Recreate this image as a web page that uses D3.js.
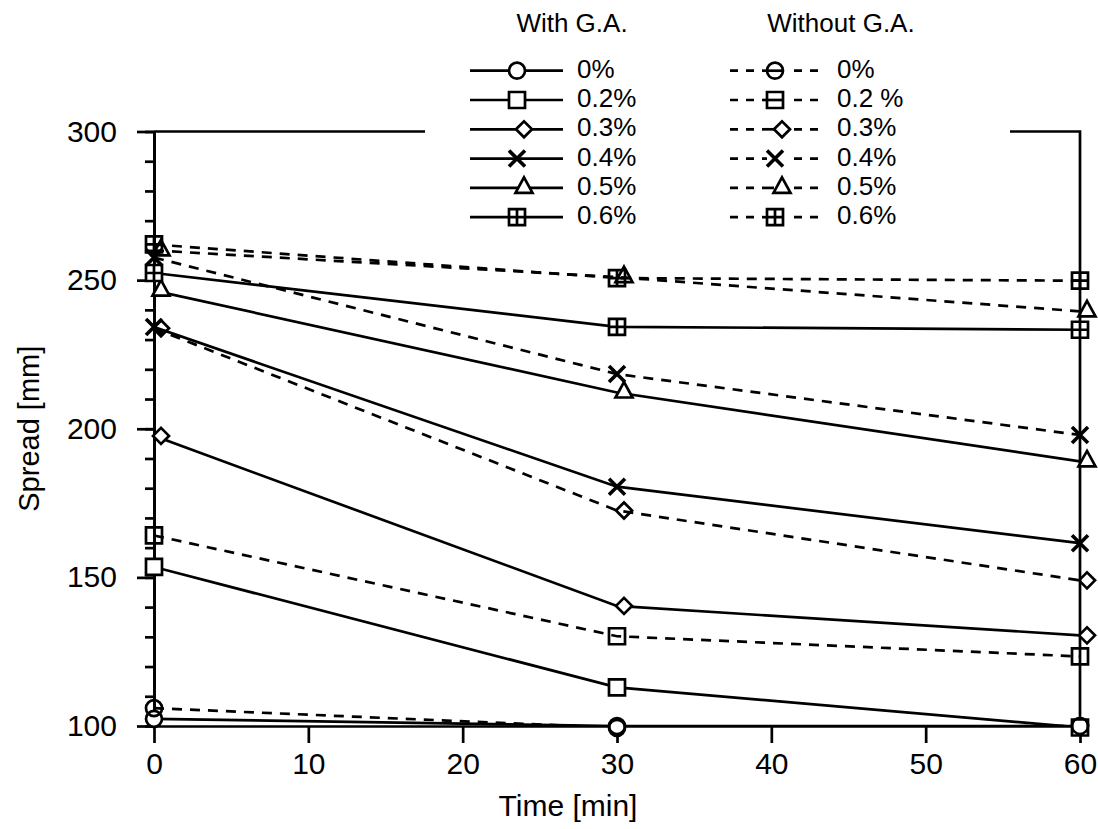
<!DOCTYPE html>
<html>
<head>
<meta charset="utf-8">
<script src="https://cdn.jsdelivr.net/npm/d3@7"></script>
<style>
  body { margin: 0; background: #fff; }
  svg { display: block; font-family: 'Liberation Sans', Arial, Helvetica, sans-serif; }
</style>
</head>
<body>
<svg id="chart" width="1098" height="829"></svg>
<script>
'use strict';

// data
const times = [0, 30, 60];
const xTicks = [0, 10, 20, 30, 40, 50, 60];
const yMajorTicks = [100, 150, 200, 250, 300];
const yMinorTicks = d3.range(100, 301, 10);
const concentrations = ['0%', '0.2%', '0.3%', '0.4%', '0.5%', '0.6%'];
const withoutLabels = ['0%', '0.2 %', '0.3%', '0.4%', '0.5%', '0.6%'];
const symbols = ['circle', 'square', 'diamond', 'cross', 'triangle', 'squarePlus'];

const withGA0 = [102.4, 100, 100];
const withGA2 = [153.5, 113, 99.5];
const withGA3 = [197.6, 140.4, 130.5];
const withGA4 = [234.2, 180.5, 161.5];
const withGA5 = [246.5, 212.2, 189];
const withGA6 = [252.4, 234.3, 233.3];

const withoutGA0 = [106, 99.4, 100];
const withoutGA2 = [164.1, 130.2, 123.4];
const withoutGA3 = [233.8, 172.5, 149];
const withoutGA4 = [257.6, 218.4, 197.9];
const withoutGA5 = [260, 251, 239.5];
const withoutGA6 = [262, 250.7, 249.8];

const withGA = [withGA0, withGA2, withGA3, withGA4, withGA5, withGA6];
const withoutGA = [withoutGA0, withoutGA2, withoutGA3, withoutGA4, withoutGA5, withoutGA6];

const svg = d3.select('#chart');
const margin = { top: 131.5, right: 18, bottom: 103, left: 154 };
const width = 1098 - margin.left - margin.right,
  height = 829 - margin.top - margin.bottom;

const x = d3.scaleLinear().domain([0, 60]).range([margin.left, margin.left + width]);
const y = d3.scaleLinear().domain([100, 300]).range([margin.top + height, margin.top]);

const LINE_W = 2.7;

// marker shapes, drawn around 0,0
function markerPath(type) {
  const p = d3.path();
  const s = 8;
  if (type === 'circle') {
    p.arc(0, 0, s, 0, 2 * Math.PI);
  } else if (type === 'square' || type === 'squarePlus') {
    p.rect(-s, -s, 2 * s, 2 * s);
    if (type === 'squarePlus') {
      p.moveTo(0, -s); p.lineTo(0, s);
      p.moveTo(-s, 0); p.lineTo(s, 0);
    }
  } else if (type === 'diamond') {
    p.moveTo(-8, 0); p.lineTo(0, -8); p.lineTo(8, 0); p.lineTo(0, 8); p.closePath();
  } else if (type === 'triangle') {
    p.moveTo(0, -10.5); p.lineTo(8.5, 5); p.lineTo(-8.5, 5); p.closePath();
  } else if (type === 'cross') {
    p.moveTo(-8, -8); p.lineTo(8, 8);
    p.moveTo(8, -8); p.lineTo(-8, 8);
  }
  return p.toString();
}
// diamonds and triangles sit a little to the right in the original
const markerShift = (type) => (type === 'diamond' || type === 'triangle' ? 7 : 0);

function drawMarker(g, type, cx, cy, fill) {
  g.append('path')
    .attr('d', markerPath(type))
    .attr('transform', `translate(${cx + markerShift(type)},${cy})`)
    .attr('fill', type === 'cross' ? 'none' : fill)
    .attr('stroke', '#000')
    .attr('stroke-width', type === 'cross' ? 3.6 : LINE_W);
}

svg.append('defs').append('clipPath').attr('id', 'plotClip')
  .append('rect')
  .attr('x', margin.left).attr('y', margin.top)
  .attr('width', width).attr('height', height);

// frame top / right
svg.append('path')
  .attr('d', `M${x(0)},${y(300)}H${x(60)}V${y(100)}`)
  .attr('fill', 'none').attr('stroke', '#000').attr('stroke-width', LINE_W);

// Y-Axis
const styleAxis = (g) =>
  g
    .call((g) => g.selectAll('.domain, .tick line').attr('stroke', '#000').attr('stroke-width', LINE_W))
    .call((g) => g.selectAll('.tick text').attr('fill', '#000').attr('font-size', 30));

svg.append('g')
  .attr('transform', `translate(${margin.left},0)`)
  .call(d3.axisLeft(y).tickValues(yMinorTicks).tickSize(9).tickSizeOuter(0).tickFormat(''))
  .call(styleAxis);

svg.append('g')
  .attr('transform', `translate(${margin.left},0)`)
  .call(d3.axisLeft(y).tickValues(yMajorTicks).tickSize(17).tickSizeOuter(0).tickPadding(20))
  .call(styleAxis);

// X-Axis
svg.append('g')
  .attr('transform', `translate(0,${y(100)})`)
  .call(d3.axisBottom(x).tickValues(xTicks).tickSize(17).tickSizeOuter(0).tickPadding(10))
  .call(styleAxis);

svg.append('text')
  .attr('x', 568).attr('y', 816)
  .attr('text-anchor', 'middle').attr('font-size', 30)
  .text('Time [min]');

svg.append('text')
  .attr('transform', `translate(39,${(y(100) + y(300)) / 2}) rotate(-90)`)
  .attr('text-anchor', 'middle').attr('font-size', 29)
  .text('Spread [mm]');

// lines
const line = d3.line()
  .x((d, i) => x(times[i]))
  .y((d) => y(d));

const plot = svg.append('g');
const lines = plot.append('g').attr('clip-path', 'url(#plotClip)');

withGA.forEach((values) => {
  lines.append('path')
    .attr('d', line(values))
    .attr('fill', 'none').attr('stroke', '#000').attr('stroke-width', LINE_W);
});
withoutGA.forEach((values) => {
  lines.append('path')
    .attr('d', line(values))
    .attr('fill', 'none').attr('stroke', '#000').attr('stroke-width', LINE_W)
    .attr('stroke-dasharray', '10,8');
});

const markers = plot.append('g');
withGA.forEach((values, k) => {
  values.forEach((v, i) => drawMarker(markers, symbols[k], x(times[i]), y(v), '#fff'));
});
withoutGA.forEach((values, k) => {
  values.forEach((v, i) => drawMarker(markers, symbols[k], x(times[i]), y(v), 'none'));
});

// legend
const legend = svg.append('g');
legend.append('rect')
  .attr('x', 425).attr('y', 0).attr('width', 585).attr('height', 232)
  .attr('fill', '#fff');

legend.append('text')
  .attr('x', 572).attr('y', 32).attr('text-anchor', 'middle').attr('font-size', 26)
  .text('With G.A.');
legend.append('text')
  .attr('x', 841).attr('y', 32).attr('text-anchor', 'middle').attr('font-size', 26)
  .text('Without G.A.');

const rowY = (i) => 70.7 + i * 29.3;

concentrations.forEach((label, i) => {
  const ly = rowY(i);
  legend.append('line')
    .attr('x1', 470).attr('x2', 563).attr('y1', ly).attr('y2', ly)
    .attr('stroke', '#000').attr('stroke-width', LINE_W);
  drawMarker(legend, symbols[i], 517, ly, '#fff');
  legend.append('text')
    .attr('x', 577).attr('y', ly + 7).attr('font-size', 26)
    .text(label);
});

withoutLabels.forEach((label, i) => {
  const ly = rowY(i);
  const type = symbols[i];
  legend.append('line')
    .attr('x1', 730).attr('x2', 823).attr('y1', ly).attr('y2', ly)
    .attr('stroke', '#000').attr('stroke-width', LINE_W)
    .attr('stroke-dasharray', '8,8');
  legend.append('rect')
    .attr('x', 760).attr('y', ly - 12).attr('width', 32).attr('height', 24)
    .attr('fill', '#fff');
  const through = type === 'circle' || type === 'square';
  legend.append('line')
    .attr('x1', 762).attr('x2', through ? 783 : 775 + markerShift(type) - 8)
    .attr('y1', ly).attr('y2', ly)
    .attr('stroke', '#000').attr('stroke-width', LINE_W);
  drawMarker(legend, type, 775, ly, through ? 'none' : '#fff');
  legend.append('text')
    .attr('x', 837).attr('y', ly + 7).attr('font-size', 26)
    .text(label);
});
</script>
</body>
</html>
